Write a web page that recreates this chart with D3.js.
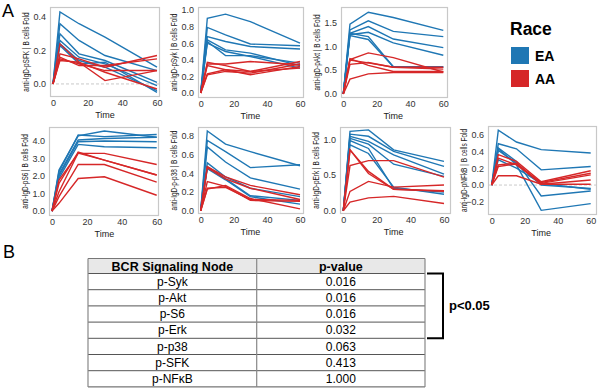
<!DOCTYPE html>
<html>
<head>
<meta charset="utf-8">
<script src="https://cdn.jsdelivr.net/npm/d3@7"></script>
<style>
  body { margin: 0; background: #fff; }
  svg { font-family: "Liberation Sans", Arial, sans-serif; }
</style>
</head>
<body>
<div id="chart"></div>
<script>
// time points (min)
const times = [0, 4, 15, 30, 60];

// fold values per donor, one row per line
const sfkEA = [[0,0.43,0.36,0.28,0.10],[0,0.36,0.26,0.17,0.08],[0,0.30,0.18,0.14,0.01],
               [0,0.26,0.16,0.12,-0.01],[0,0.24,0.14,0.10,-0.04],[0,0.23,0.12,0.13,-0.05]];
const sfkAA = [[0,0.24,0.13,0.02,0.08],[0,0.18,0.15,0.10,0.17],[0,0.16,0.11,0.11,0.15],
               [0,0.15,0.12,0.08,0.08],[0,0.14,0.13,0.07,-0.03]];
const sykEA = [[0,0.90,0.95,0.86,0.60],[0,0.79,0.70,0.59,0.57],[0,0.68,0.62,0.56,0.53],
               [0,0.64,0.52,0.48,0.33],[0,0.62,0.45,0.45,0.36],[0,0.60,0.50,0.44,0.30]];
const sykAA = [[0,0.37,0.33,0.26,0.38],[0,0.35,0.35,0.38,0.34],[0,0.33,0.28,0.22,0.32],
               [0,0.23,0.28,0.26,0.30],[0,0.22,0.26,0.24,0.35]];
const aktEA = [[0,1.46,1.71,1.60,1.33],[0,1.34,1.53,1.31,1.20],[0,1.27,1.41,1.15,0.97],
               [0,1.24,1.29,1.07,0.81],[0,1.22,1.14,0.57,0.57],[0,1.27,1.20,0.57,0.56]];
const aktAA = [[0,0.72,0.86,0.76,0.46],[0,0.71,0.65,0.56,0.56],[0,0.62,0.66,0.56,0.52],
               [0,0.74,0.60,0.47,0.47],[0,0.31,0.42,0.45,0.45]];
const s6EA  = [[0,2.33,4.28,4.55,4.20],[0,2.24,4.32,4.23,4.35],[0,2.09,4.04,4.13,4.20],
               [0,2.00,3.94,3.98,3.94],[0,1.86,3.79,3.66,3.60]];
const s6AA  = [[0,1.76,3.28,3.28,2.65],[0,1.57,3.35,2.90,2.05],[0,1.10,3.30,2.90,2.05],
               [0,0.82,2.65,2.65,1.65],[0,0.44,1.85,1.95,0.90]];
const p38EA = [[0,0.85,0.71,0.63,0.48],[0,0.75,0.63,0.46,0.49],[0,0.68,0.52,0.35,0.23],
               [0,0.51,0.36,0.24,0.15],[0,0.45,0.33,0.15,0.07],[0,0.47,0.34,0.16,0.11]];
const p38AA = [[0,0.47,0.36,0.27,0.17],[0,0.46,0.34,0.24,0.12],[0,0.31,0.26,0.11,0.10],
               [0,0.24,0.25,0.12,0.11],[0,0.23,0.27,0.13,0.02]];
const erkEA = [[0,1.11,1.13,0.85,0.69],[0,1.07,1.04,0.83,0.62],[0,1.04,0.97,0.78,0.51],
               [0,1.01,0.93,0.65,0.48],[0,0.92,0.80,0.33,0.23],[0,0.98,0.87,0.31,0.26]];
const erkAA = [[0,0.85,0.55,0.30,0.28],[0,0.63,0.70,0.70,0.47],[0,0.27,0.41,0.33,0.36],
               [0,0.12,0.18,0.20,0.10],[0,0.85,0.52,0.30,0.27]];
const nfkbEA = [[0,0.65,0.51,0.42,0.38],[0,0.49,0.43,0.18,0.22],[0,0.43,0.24,-0.30,-0.22],
                [0,0.44,0.28,-0.13,-0.07],[0,0.30,0.20,0.02,-0.05],[0,0.41,0.26,0.00,-0.04]];
const nfkbAA = [[0,0.36,0.28,0.04,0.17],[0,0.32,0.24,0.03,0.14],[0,0.24,0.26,0.02,0.12],
                [0,0.22,0.25,0.01,0.06],[0,0.11,0.11,0.01,0.01]];

const xTicks = [0, 20, 40, 60];

// table
const tableNodes  = ["p-Syk","p-Akt","p-S6","p-Erk","p-p38","p-SFK","p-NF\u03baB"];
const tablePvals  = ["0.016","0.016","0.016","0.032","0.063","0.413","1.000"];

const blue = "#1f77b4", red = "#d62728";

// panel layout: frame box, pixel x of t=0 / t=60, y domain, ticks
const panels = [
  {name:"pSFK",  ea:sfkEA,  aa:sfkAA,  box:[50,7,160,97],    x:[53,157],    y:[-0.078,0.46], ticks:[0,0.2,0.4], zero:true},
  {name:"pSyk",  ea:sykEA,  aa:sykAA,  box:[198,7,304,98],   x:[200.7,300], y:[-0.06,1.036], ticks:[0,0.2,0.4,0.6,0.8,1.0]},
  {name:"pAkt",  ea:aktEA,  aa:aktAA,  box:[341,7,448,98],   x:[343.3,443.3], y:[-0.084,1.82], ticks:[0,0.5,1.0,1.5]},
  {name:"pS6",   ea:s6EA,   aa:s6AA,   box:[49,127,159,216], x:[52,156.7],  y:[-0.28,4.78], ticks:[0,1,2,3,4]},
  {name:"p-p38", ea:p38EA,  aa:p38AA,  box:[198,127,304,214],x:[200.7,300], y:[-0.035,0.893], ticks:[0,0.2,0.4,0.6,0.8]},
  {name:"pErk",  ea:erkEA,  aa:erkAA,  box:[340,127,451,214],x:[343.3,444], y:[-0.046,1.17], ticks:[0,0.5,1.0]},
  {name:"pNFkB", ea:nfkbEA, aa:nfkbAA, box:[488,126,597,215],x:[491.7,590.7], y:[-0.355,0.70], ticks:[-0.2,0,0.2,0.4,0.6], zero:true}
];

const svg = d3.select("#chart").append("svg")
    .attr("width", 600).attr("height", 388);

svg.append("text").attr("x", 2).attr("y", 17).attr("font-size", 18).text("A");
svg.append("text").attr("x", 3).attr("y", 258).attr("font-size", 18).text("B");

panels.forEach(p => {
    const [l, t, r, b] = p.box;
    const x = d3.scaleLinear().domain([0, 60]).range(p.x);
    const y = d3.scaleLinear().domain(p.y).range([b, t]);
    const g = svg.append("g");

    g.append("rect")
        .attr("x", l + 0.5).attr("y", t + 0.5)
        .attr("width", r - l - 1).attr("height", b - t - 1)
        .attr("fill", "none").attr("stroke", "#c8c8c8").attr("stroke-width", 1.2);

    if (p.zero) {
        g.append("line")
            .attr("x1", l + 1).attr("x2", r - 1)
            .attr("y1", y(0)).attr("y2", y(0))
            .attr("stroke", "#bbb").attr("stroke-width", 0.8)
            .attr("stroke-dasharray", "3,2");
    }

    const line = d3.line().x((d, i) => x(times[i])).y(d => y(d));
    g.selectAll(".ea").data(p.ea).enter().append("path")
        .attr("d", line).attr("fill", "none")
        .attr("stroke", blue).attr("stroke-width", 1.4);
    g.selectAll(".aa").data(p.aa).enter().append("path")
        .attr("d", line).attr("fill", "none")
        .attr("stroke", red).attr("stroke-width", 1.4);

    // y axis labels
    const ya = g.append("g")
        .attr("transform", "translate(" + l + ",0)")
        .call(d3.axisLeft(y).tickValues(p.ticks).tickSize(0).tickPadding(4)
              .tickFormat(d3.format(".1f")));
    ya.select(".domain").remove();
    ya.selectAll("text").attr("font-size", 9).attr("fill", "#333")
        .attr("font-family", "Liberation Sans, Arial, sans-serif");

    // x axis labels
    const xa = g.append("g")
        .attr("transform", "translate(0," + b + ")")
        .call(d3.axisBottom(x).tickValues(xTicks).tickSize(0).tickPadding(3));
    xa.select(".domain").remove();
    xa.selectAll("text").attr("font-size", 9).attr("fill", "#333")
        .attr("font-family", "Liberation Sans, Arial, sans-serif");

    g.append("text")
        .attr("x", x(30)).attr("y", b + 21)
        .attr("text-anchor", "middle").attr("font-size", 9).attr("fill", "#222")
        .text("Time");

    // condensed like the original, spans most of the frame height
    g.append("text")
        .attr("transform", "translate(" + (l - 21) + "," + ((t + b) / 2) + ") rotate(-90) scale(0.76,1)")
        .attr("text-anchor", "middle").attr("font-size", 8.5).attr("fill", "#222")
        .text("anti-IgD-" + p.name + " | B cells Fold");
});

// legend
const legend = svg.append("g");
legend.append("text").attr("x", 510).attr("y", 35)
    .attr("font-size", 17.5).attr("font-weight", "bold").text("Race");
[["EA", blue], ["AA", red]].forEach((d, i) => {
    legend.append("rect").attr("x", 511).attr("y", 47 + i * 23)
        .attr("width", 18).attr("height", 17).attr("fill", d[1]);
    legend.append("text").attr("x", 535).attr("y", 61 + i * 23)
        .attr("font-size", 14).attr("font-weight", "bold").text(d[0]);
});

// table
const tx = [88, 256.7, 425];
const headTop = 258.5, headH = 15, rowH = 16.2;
const tbl = svg.append("g");
tbl.append("rect").attr("x", tx[0]).attr("y", headTop)
    .attr("width", tx[2] - tx[0]).attr("height", headH).attr("fill", "#e8e8e8");
tbl.append("text").attr("x", (tx[0] + tx[1]) / 2).attr("y", headTop + 12)
    .attr("text-anchor", "middle").attr("font-size", 12.5).attr("font-weight", "bold")
    .text("BCR Signaling Node");
tbl.append("text").attr("x", (tx[1] + tx[2]) / 2).attr("y", headTop + 12)
    .attr("text-anchor", "middle").attr("font-size", 12.5).attr("font-weight", "bold")
    .text("p-value");

const rowY = d3.scaleLinear().domain([0, 1]).range([headTop + headH, headTop + headH + rowH]);
tableNodes.forEach((n, i) => {
    tbl.append("text").attr("x", (tx[0] + tx[1]) / 2).attr("y", rowY(i) + 12.3)
        .attr("text-anchor", "middle").attr("font-size", 12).text(n);
    tbl.append("text").attr("x", (tx[1] + tx[2]) / 2).attr("y", rowY(i) + 12.3)
        .attr("text-anchor", "middle").attr("font-size", 12).text(tablePvals[i]);
});
d3.range(tableNodes.length + 1).forEach(i => {
    tbl.append("line").attr("x1", tx[0]).attr("x2", tx[2])
        .attr("y1", rowY(i)).attr("y2", rowY(i))
        .attr("stroke", "#555").attr("stroke-width", 1);
});
tbl.append("line").attr("x1", tx[0]).attr("x2", tx[2])
    .attr("y1", headTop).attr("y2", headTop).attr("stroke", "#777");
tx.forEach(v => {
    tbl.append("line").attr("x1", v).attr("x2", v)
        .attr("y1", headTop).attr("y2", rowY(tableNodes.length))
        .attr("stroke", "#888").attr("stroke-width", 1.2);
});

// bracket for significant rows
svg.append("path")
    .attr("d", "M427," + rowY(0) + "H443V" + rowY(4) + "H427")
    .attr("fill", "none").attr("stroke", "#000").attr("stroke-width", 2);
svg.append("text").attr("x", 449).attr("y", (rowY(0) + rowY(4)) / 2 + 4.5)
    .attr("font-size", 13).attr("font-weight", "bold").text("p<0.05");
</script>
</body>
</html>
